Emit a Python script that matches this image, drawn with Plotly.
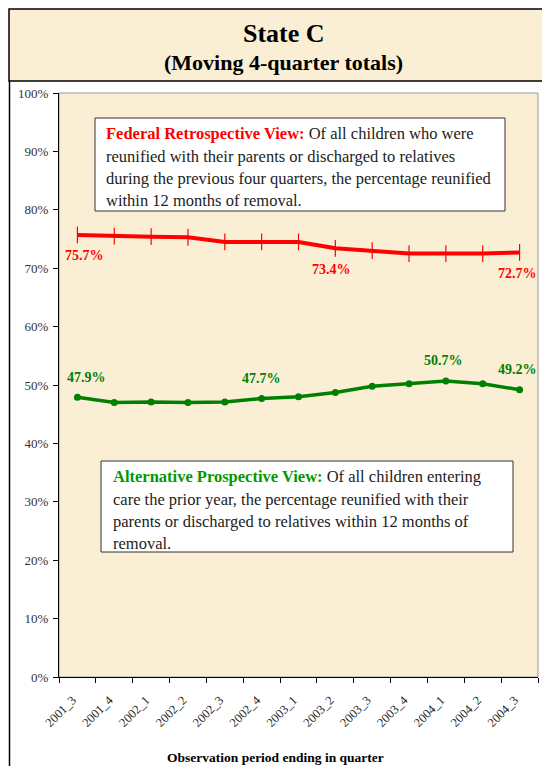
import plotly.graph_objects as go

quarters = ["2001_3", "2001_4", "2002_1", "2002_2", "2002_3", "2002_4", "2003_1",
            "2003_2", "2003_3", "2003_4", "2004_1", "2004_2", "2004_3"]
federal = [75.7, 75.5, 75.4, 75.3, 74.5, 74.5, 74.5, 73.4, 73.0, 72.5, 72.5, 72.5, 72.7]
alternative = [47.9, 47.0, 47.1, 47.0, 47.1, 47.7, 48.0, 48.7, 49.8, 50.2, 50.7, 50.2, 49.2]
federal_label_idx = [0, 7, 12]
alternative_label_idx = [0, 5, 10, 12]
y_ticks = [0, 10, 20, 30, 40, 50, 60, 70, 80, 90, 100]

fed_text = ["Federal Retrospective View:", "Of all children who were",
            "reunified with their parents or discharged to relatives",
            "during the previous four quarters, the percentage reunified",
            "within 12 months of removal."]
alt_text = ["Alternative Prospective View:", "Of all children entering",
            "care the prior year, the percentage reunified with their",
            "parents or discharged to relatives within 12 months of",
            "removal."]

SERIF = "Liberation Serif, Times New Roman, serif"
RED = "#FF0000"
GREEN = "#008000"
BEIGE = "#FAEFD5"

# page offset of the html body (8px default margin)
OFF = 8
PAGE_W, PAGE_H = 550, 766
W, H = PAGE_W - OFF, PAGE_H - OFF
# plot area in page pixels
PL, PR, PT, PB = 59, 538, 93, 677
L, R, T, B = PL - OFF, W - (PR - OFF), PT - OFF, H - (PB - OFF)
PW = PR - PL
PH = PB - PT


def px(x):
    return (x - PL) / PW


def py(y):
    return (PB - y) / PH


fig = go.Figure()
fig.add_trace(go.Scatter(
    x=quarters, y=federal, mode="lines+markers",
    line=dict(color=RED, width=4),
    marker=dict(symbol="line-ns", size=12, line=dict(color=RED, width=1.2), color=RED),
    showlegend=False, hoverinfo="skip"))
fig.add_trace(go.Scatter(
    x=quarters, y=alternative, mode="lines+markers",
    line=dict(color=GREEN, width=3.5),
    marker=dict(symbol="circle", size=7, color=GREEN),
    showlegend=False, hoverinfo="skip"))

annotations = []
fed_shift = {0: 7, 7: -4, 12: -2}
for i in federal_label_idx:
    annotations.append(dict(x=quarters[i], y=federal[i], xref="x", yref="y",
                            xanchor="center", yanchor="middle",
                            text=f"<b>{federal[i]:.1f}%</b>", showarrow=False,
                            font=dict(family=SERIF, size=14, color=RED),
                            yshift=-21, xshift=fed_shift[i]))
alt_shift = {0: 9, 5: 0, 10: -2, 12: -2}
for i in alternative_label_idx:
    annotations.append(dict(x=quarters[i], y=alternative[i], xref="x", yref="y",
                            xanchor="center", yanchor="middle",
                            text=f"<b>{alternative[i]:.1f}%</b>", showarrow=False,
                            font=dict(family=SERIF, size=14, color=GREEN),
                            yshift=20, xshift=alt_shift[i]))

# Title
annotations.append(dict(x=px(284), y=py(33), xref="paper", yref="paper", showarrow=False,
                        xanchor="center", yanchor="middle",
                        text="<b>State C</b>", font=dict(family=SERIF, size=26, color="black")))
annotations.append(dict(x=px(283), y=py(63), xref="paper", yref="paper", showarrow=False,
                        xanchor="center", yanchor="middle",
                        text="<b>(Moving 4-quarter totals)</b>",
                        font=dict(family=SERIF, size=22, color="black")))
# x-axis title
annotations.append(dict(x=px(275), y=py(757), xref="paper", yref="paper", showarrow=False,
                        xanchor="center", yanchor="middle",
                        text="<b>Observation period ending in quarter</b>",
                        font=dict(family=SERIF, size=13.5, color="black")))


def text_box(lines, color, x_left, y_lines):
    out = []
    first = f"<b><span style='color:{color}'>{lines[0]}</span></b> {lines[1]}"
    texts = [first] + lines[2:]
    for t, yy in zip(texts, y_lines):
        out.append(dict(x=px(x_left), y=py(yy), xref="paper", yref="paper", showarrow=False,
                        xanchor="left", yanchor="middle", text=t,
                        font=dict(family=SERIF, size=16.5, color="#222222")))
    return out


annotations += text_box(fed_text, RED, 104, [133, 156, 178, 200])
annotations += text_box(alt_text, "#009900", 111, [476, 499, 521, 543])

shapes = [
    # title box
    dict(type="rect", xref="paper", yref="paper", x0=px(9), x1=px(548), y0=py(81), y1=py(9),
         fillcolor=BEIGE, line=dict(color="black", width=1.5), layer="below"),
    # left frame line
    dict(type="line", xref="paper", yref="paper", x0=px(9.5), x1=px(9.5), y0=py(81), y1=py(766),
         line=dict(color="black", width=1.5)),
    # plot area border
    dict(type="rect", xref="paper", yref="paper", x0=0, x1=1, y0=0, y1=1,
         line=dict(color="#999999", width=1), layer="below"),
    # text boxes
    dict(type="rect", xref="paper", yref="paper", x0=px(95), x1=px(505), y0=py(211), y1=py(118),
         fillcolor="white", line=dict(color="#333333", width=1)),
    dict(type="rect", xref="paper", yref="paper", x0=px(101), x1=px(513), y0=py(552), y1=py(461),
         fillcolor="white", line=dict(color="#333333", width=1)),
]

fig.update_layout(
    width=W, height=H,
    margin=dict(l=L, r=R, t=T, b=B, autoexpand=False),
    paper_bgcolor="white", plot_bgcolor=BEIGE,
    annotations=annotations, shapes=shapes,
    font=dict(family=SERIF, color="#333333"),
    xaxis=dict(type="category", categoryorder="array", categoryarray=quarters,
               range=[-0.5, len(quarters) - 0.5], tickangle=-45, automargin=False,
               tickfont=dict(family=SERIF, size=12.5, color="#222222"),
               ticklabelstandoff=10, ticklabelshift=-5,
               ticks="outside", ticklen=5, tickson="boundaries", tickcolor="black",
               showline=True, linecolor="black", linewidth=1, showgrid=False, zeroline=False),
    yaxis=dict(range=[0, 100], tickvals=y_ticks, ticktext=[f"{v}%" for v in y_ticks],
               automargin=False,
               tickfont=dict(family=SERIF, size=13, color="#333333"),
               ticks="outside", ticklen=5, tickcolor="black", ticklabelstandoff=2,
               showline=True, linecolor="black", linewidth=1, showgrid=False, zeroline=False),
)

fig.write_html("out.html")
